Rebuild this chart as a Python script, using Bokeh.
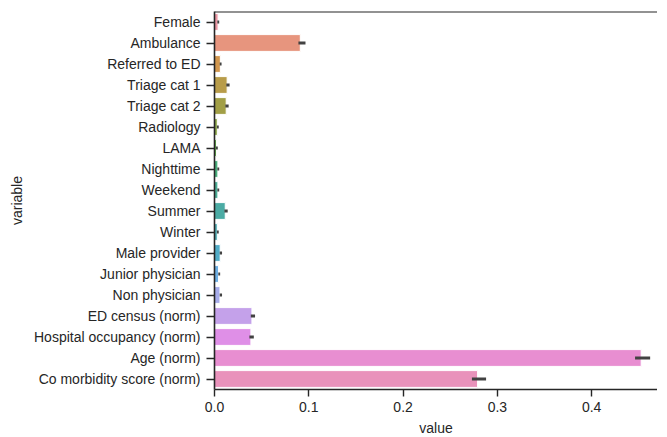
import colorsys
import math

from bokeh.plotting import figure
from bokeh.models import FactorRange, Range1d, FixedTicker, Span
from bokeh.embed import file_html
from bokeh.resources import INLINE

# ---------------- data ----------------
variables = ["Female", "Ambulance", "Referred to ED", "Triage cat 1", "Triage cat 2",
             "Radiology", "LAMA", "Nighttime", "Weekend", "Summer", "Winter",
             "Male provider", "Junior physician", "Non physician", "ED census (norm)",
             "Hospital occupancy (norm)", "Age (norm)", "Co morbidity score (norm)"]
values = [0.0038, 0.0910, 0.0062, 0.0134, 0.0124, 0.0030, 0.0021, 0.0036, 0.0036,
          0.0114, 0.0030, 0.0060, 0.0043, 0.0058, 0.0397, 0.0386, 0.4525, 0.2790]
ci_low = [0.0030, 0.0890, 0.0055, 0.0125, 0.0115, 0.0025, 0.0015, 0.0030, 0.0030,
          0.0105, 0.0025, 0.0055, 0.0040, 0.0055, 0.0385, 0.0370, 0.4460, 0.2730]
ci_high = [0.0050, 0.0965, 0.0075, 0.0160, 0.0150, 0.0045, 0.0035, 0.0050, 0.0050,
           0.0140, 0.0045, 0.0080, 0.0060, 0.0080, 0.0430, 0.0417, 0.4620, 0.2880]
x_ticks = [0.0, 0.1, 0.2, 0.3, 0.4]
x_tick_labels = ["0.0", "0.1", "0.2", "0.3", "0.4"]

# ---------------- husl palette (seaborn style) ----------------
M = [[3.2406, -1.5372, -0.4986], [-0.9689, 1.8758, 0.0415], [0.0557, -0.2040, 1.0570]]
REF_U, REF_V, KAPPA, EPS = 0.19784, 0.46834, 903.2963, 0.0088564


def max_chroma(L, H):
    hrad = math.radians(H)
    sinH, cosH = math.sin(hrad), math.cos(hrad)
    sub1 = (L + 16) ** 3 / 1560896.0
    sub2 = sub1 if sub1 > EPS else L / KAPPA
    result = float("inf")
    for m1, m2, m3 in M:
        top = (0.99915 * m1 + 1.05122 * m2 + 1.14460 * m3) * sub2
        rb = 0.86330 * m3 - 0.17266 * m2
        lb = 0.12949 * m3 - 0.38848 * m1
        bottom = (rb * sinH + lb * cosH) * sub2
        for t in (0.0, 1.0):
            C = L * (top - 1.05122 * t) / (bottom + 0.17266 * sinH * t)
            if 0 < C < result:
                result = C
    return result


def from_linear(c):
    return 12.92 * c if c <= 0.0031308 else 1.055 * c ** (1 / 2.4) - 0.055


def husl_to_rgb(h, s, l):
    c = max_chroma(l, h) / 100.0 * s
    hr = math.radians(h)
    U, V = c * math.cos(hr), c * math.sin(hr)
    Y = ((l + 16) / 116.0) ** 3 if l > 8 else l / KAPPA
    vu = U / (13 * l) + REF_U
    vv = V / (13 * l) + REF_V
    X = -(9 * Y * vu) / ((vu - 4) * vv - vu * vv)
    Z = (9 * Y - 15 * vv * Y - vv * X) / (3 * vv)
    return [min(1, max(0, from_linear(r[0] * X + r[1] * Y + r[2] * Z))) for r in M]


def palette(n, h=0.01, s=0.9, l=0.7, desat=0.75):
    out = []
    for i in range(n):
        hue = ((i / n + h) % 1) * 359
        r, g, b = husl_to_rgb(hue, s * 99, l * 99)
        hh, ll, ss = colorsys.rgb_to_hls(r, g, b)
        r, g, b = colorsys.hls_to_rgb(hh, ll, ss * desat)
        out.append("#%02x%02x%02x" % tuple(int(round(v * 255)) for v in (r, g, b)))
    return out


colors = palette(len(variables))

# ---------------- figure ----------------
FONT = "Liberation Sans"
TXT = "#262626"

p = figure(frame_width=443, frame_height=378, output_backend="svg", toolbar_location=None,
           y_range=FactorRange(factors=list(reversed(variables)), range_padding=0),
           x_range=Range1d(0, 0.4698),
           min_border_left=214, min_border_right=0, min_border_top=11, min_border_bottom=0)

p.hbar(y=variables, right=values, left=0, height=0.8, fill_color=colors,
       line_color="white", line_width=1)
p.segment(x0=ci_low, x1=ci_high, y0=variables, y1=variables,
          line_color="#424242", line_width=3)

p.xgrid.visible = False
p.ygrid.visible = False
p.outline_line_color = None
p.background_fill_color = "white"
p.border_fill_color = "white"

for ax in (p.xaxis[0], p.yaxis[0]):
    ax.axis_line_color = TXT
    ax.axis_line_width = 1.6
    ax.major_tick_line_color = TXT
    ax.major_tick_line_width = 1.4
    ax.minor_tick_line_color = None
    ax.major_tick_in = 0
    ax.major_label_text_font = FONT
    ax.major_label_text_font_size = "14px"
    ax.major_label_text_color = TXT
    ax.axis_label_text_font = FONT
    ax.axis_label_text_font_size = "14px"
    ax.axis_label_text_font_style = "normal"
    ax.axis_label_text_color = TXT

p.xaxis[0].axis_label = "value"
p.xaxis[0].ticker = FixedTicker(ticks=x_ticks)
p.xaxis[0].major_label_overrides = dict(zip(x_ticks, x_tick_labels))
p.xaxis[0].major_tick_out = 7
p.xaxis[0].major_label_standoff = 5
p.xaxis[0].axis_label_standoff = 5

p.yaxis[0].axis_label = "variable"
p.yaxis[0].major_tick_out = 8
p.yaxis[0].major_label_standoff = 6
p.yaxis[0].axis_label_standoff = 6

# top spine (the right spine lies outside the reference crop)
p.add_layout(Span(location=len(variables), dimension="width",
                  line_color=TXT, line_width=2))

open("out.html", "w").write(file_html(p, INLINE))
